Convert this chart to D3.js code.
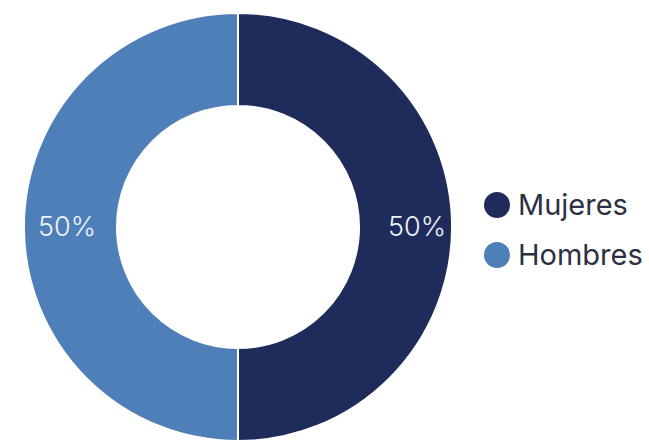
<!DOCTYPE html>
<html>
<head>
<meta charset="utf-8">
<script src="https://cdn.jsdelivr.net/npm/d3@7"></script>
<style>
  html, body { margin: 0; padding: 0; background: #ffffff; }
  svg { display: block; }
</style>
</head>
<body>
<svg id="chart" width="649" height="445"></svg>
<script>
const categories = ["Mujeres", "Hombres"];
const values = [50, 50];
const labels = ["50%", "50%"];
const colors = ["#1f2b5b", "#4f7fb9"];

const svg = d3.select("#chart");
const cx = 238, cy = 227;
const outerR = 214, innerR = 121;

const data = categories.map((c, i) => ({ name: c, value: values[i], label: labels[i], color: colors[i] }));

const pie = d3.pie().value(d => d.value).sort(null);
const arc = d3.arc().innerRadius(innerR).outerRadius(outerR);
const labelArc = d3.arc().innerRadius(175).outerRadius(175);

const g = svg.append("g").attr("transform", `translate(${cx},${cy})`);
const arcs = pie(data);

g.selectAll("path.slice")
  .data(arcs)
  .join("path")
  .attr("class", "slice")
  .attr("d", arc)
  .attr("fill", d => d.data.color)
  .attr("stroke", "#ffffff")
  .attr("stroke-width", 2);

g.selectAll("text.lbl")
  .data(arcs)
  .join("text")
  .attr("class", "lbl")
  .attr("transform", d => { const [x, y] = labelArc.centroid(d); return `translate(${x + 4},${y})`; })
  .attr("text-anchor", "middle")
  .attr("dy", "0.35em")
  .attr("font-family", "Inter, Liberation Sans, Arial, sans-serif")
  .attr("font-size", 27)
  .attr("font-weight", 300)
  .attr("fill", "#eef2fa")
  .text(d => d.data.label);

const legend = svg.append("g").attr("transform", "translate(497,205)");
const items = legend.selectAll("g.item")
  .data(data)
  .join("g")
  .attr("class", "item")
  .attr("transform", (d, i) => `translate(0,${i * 50})`);

items.append("circle")
  .attr("r", 13)
  .attr("fill", d => d.color);

items.append("text")
  .attr("x", 21)
  .attr("dy", "0.35em")
  .attr("font-family", "Inter, Liberation Sans, Arial, sans-serif")
  .attr("font-size", 29)
  .attr("fill", "#2b3142")
  .text(d => d.name);
</script>
</body>
</html>
